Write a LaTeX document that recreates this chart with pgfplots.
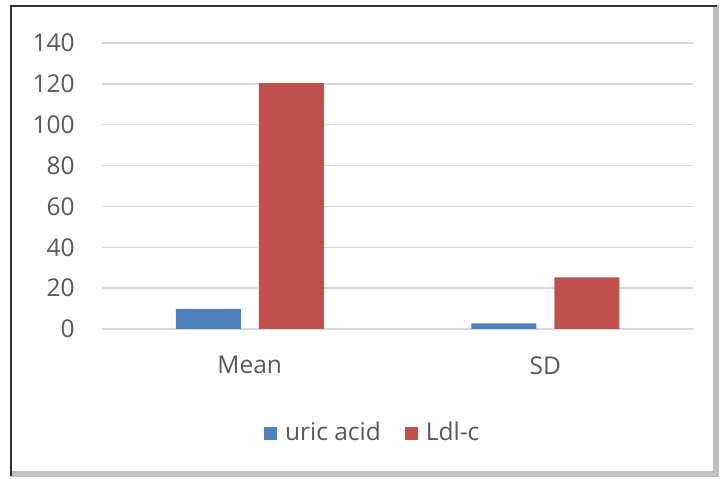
\documentclass[border=0pt]{standalone}
\usepackage{pgfplots}
\pgfplotsset{compat=1.18}
\usepackage{fontspec}
\setmainfont{Open Sans}
\definecolor{exblue}{HTML}{4F81BD}
\definecolor{exred}{HTML}{C0504D}
\definecolor{txt}{HTML}{595959}
\definecolor{grd}{HTML}{D9D9D9}
\begin{document}
\fontsize{24.5}{29}\selectfont
\begin{tikzpicture}
\path[use as bounding box] (0pt,0pt) rectangle (720pt,479pt);
\fill[white] (0pt,0pt) rectangle (720pt,479pt);
% frame
\fill[gray!50] (713pt,2pt) rectangle (719pt,474pt);
\fill[gray!50] (10pt,2pt) rectangle (719pt,8pt);
\fill[white] (12pt,10pt) rectangle (713pt,472pt);
\draw[black!80,line width=2.5pt] (11pt,3pt) -- (11pt,473pt) -- (717pt,473pt);
\begin{axis}[
  at={(102pt,150pt)}, anchor=south west,
  scale only axis, width=591pt, height=286pt,
  ybar=18pt, bar width=65pt,
  xmin=-0.5, xmax=1.5, ymin=0, ymax=140,
  xtick=data, xticklabels={Mean,SD},
  ytick={0,20,...,140},
  ymajorgrids, grid style={grd,line width=1.3pt},
  axis line style={draw=none},
  major tick length=0pt,
  tick label style={text=txt},
  /pgf/number format/assume math mode=true,
  yticklabel style={xshift=-19pt},
  xticklabel style={yshift=-19pt},
  legend style={at={(0.458,-0.364)}, anchor=center, draw=none, fill=none,
    legend columns=2, text=txt,
    /tikz/every odd column/.append style={column sep=6pt},
    /tikz/every even column/.append style={column sep=22pt}},
  legend image code/.code={\fill[#1] (0pt,-6.5pt) rectangle (13pt,6.5pt);},
]
\addplot[fill=exblue, draw=none] coordinates {(0,9.8) (1,2.8)};
\addplot[fill=exred, draw=none] coordinates {(0,120.4) (1,25.3)};
\legend{uric acid, Ldl-c}
\end{axis}
\end{tikzpicture}
\end{document}
